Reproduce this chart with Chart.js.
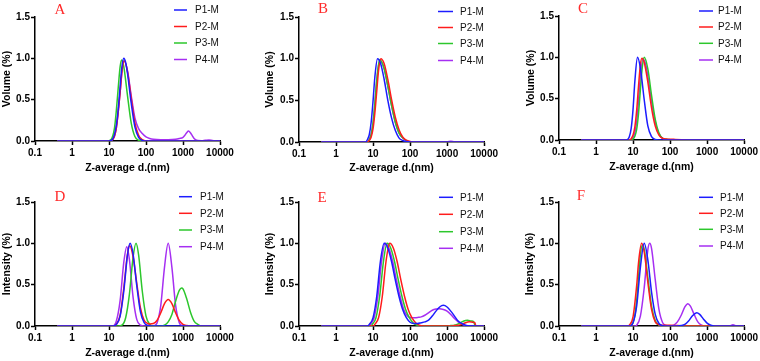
<!DOCTYPE html>
<html><head><meta charset="utf-8">
<script src="https://cdn.jsdelivr.net/npm/chart.js@4.4.1/dist/chart.umd.min.js"></script>
<style>
html,body{margin:0;padding:0;background:#fff;width:760px;height:361px;overflow:hidden;}
body{position:relative}
canvas{position:absolute}
</style></head><body>
<script>
// ---- shared labels / ticks ----
const xTicks = [0.1, 1, 10, 100, 1000, 10000];
const yTicks = [0, 0.5, 1.0, 1.5];
const seriesNames = ['P1-M', 'P2-M', 'P3-M', 'P4-M'];
const panelLetters = ['A', 'B', 'C', 'D', 'E', 'F'];
const yTitles = ['Volume (%)', 'Volume (%)', 'Volume (%)', 'Intensity (%)', 'Intensity (%)', 'Intensity (%)'];
const xTitle = 'Z-average d.(nm)';

// ---- Panel A (volume) ----
const A1x = [0.4, 10, 12.6, 15.8, 17.8, 20, 22.4, 25.1, 28.2, 31.6, 39.8, 50.1, 63.1, 79.4, 100, 10000];
const A1y = [0, 0, 0.024, 0.19, 0.39, 0.66, 0.90, 1.0, 0.95, 0.82, 0.46, 0.17, 0.044, 0.008, 0, 0];
const A2x = [0.4, 10, 12.6, 15.8, 20, 22.4, 25.7, 31.6, 39.8, 50.1, 63.1, 79.4, 100, 10000];
const A2y = [0, 0, 0.018, 0.16, 0.59, 0.84, 0.97, 0.84, 0.52, 0.22, 0.07, 0.016, 0, 0];
const A3x = [0.4, 8.91, 11.2, 14.1, 15.8, 17.8, 20, 21.9, 25.1, 31.6, 39.8, 50.1, 63.1, 79.4, 10000];
const A3y = [0, 0, 0.015, 0.16, 0.37, 0.65, 0.90, 0.98, 0.90, 0.55, 0.22, 0.055, 0.009, 0, 0];
const A4x = [0.4, 10, 12.6, 15.8, 20, 22.4, 25.7, 31.6, 39.8, 50.1, 63.1, 79.4, 100, 126, 158, 251, 398, 631, 794, 1000, 1122, 1259, 1413, 1585, 1778, 1995, 2512, 3162, 3981, 5012, 6310, 7943];
const A4y = [0, 0, 0.018, 0.16, 0.59, 0.84, 0.97, 0.85, 0.55, 0.28, 0.15, 0.09, 0.05, 0.03, 0.02, 0.015, 0.015, 0.02, 0.03, 0.045, 0.07, 0.10, 0.12, 0.10, 0.065, 0.03, 0.005, 0.003, 0.008, 0.012, 0.005, 0];

// ---- Panel B (volume) ----
const B1x = [0.4, 6.31, 7.08, 7.94, 8.91, 10, 11.2, 13.2, 15.8, 20, 25.1, 31.6, 39.8, 50.1, 63.1, 79.4, 100, 10000];
const B1y = [0, 0, 0.03, 0.09, 0.24, 0.49, 0.78, 1.0, 0.95, 0.75, 0.50, 0.29, 0.14, 0.05, 0.018, 0.005, 0, 0];
const B2x = [0.4, 7.08, 7.94, 8.91, 10, 11.2, 12.6, 14.1, 16.2, 20, 25.1, 31.6, 39.8, 50.1, 63.1, 79.4, 100, 126, 10000];
const B2y = [0, 0, 0.02, 0.06, 0.16, 0.35, 0.61, 0.86, 1.0, 0.94, 0.75, 0.51, 0.30, 0.15, 0.06, 0.022, 0.007, 0, 0];
const B3x = [0.4, 7.08, 7.94, 8.91, 10, 11.2, 12.6, 15.1, 20, 25.1, 31.6, 39.8, 50.1, 63.1, 79.4, 100, 10000];
const B3y = [0, 0, 0.03, 0.09, 0.23, 0.46, 0.74, 0.99, 0.88, 0.67, 0.44, 0.24, 0.11, 0.05, 0.016, 0, 0];
const B4x = [0.4, 7.08, 7.94, 8.91, 10, 11.2, 12.6, 15.1, 20, 25.1, 31.6, 39.8, 50.1, 63.1, 79.4, 100, 1000, 1259, 1585, 10000];
const B4y = [0, 0, 0.03, 0.09, 0.22, 0.45, 0.73, 0.98, 0.88, 0.67, 0.44, 0.24, 0.11, 0.05, 0.016, 0, 0, 0.01, 0, 0];

// ---- Panel C (volume) ----
const C1x = [0.4, 6.31, 7.08, 7.94, 8.91, 10, 11.2, 13.2, 15.8, 20, 25.1, 31.6, 39.8, 50.1, 10000];
const C1y = [0, 0, 0.006, 0.04, 0.14, 0.37, 0.71, 1.0, 0.87, 0.49, 0.17, 0.04, 0.006, 0, 0];
const C2x = [0.4, 7.94, 8.91, 10, 11.2, 12.6, 14.1, 15.8, 17.4, 20, 25.1, 31.6, 39.8, 50.1, 63.1, 79.4, 126, 200, 316, 10000];
const C2y = [0, 0, 0.015, 0.06, 0.16, 0.37, 0.66, 0.91, 0.99, 0.94, 0.70, 0.39, 0.17, 0.06, 0.02, 0.012, 0.008, 0.004, 0, 0];
const C3x = [0.4, 8.91, 10, 11.2, 12.6, 14.1, 15.8, 17.8, 20, 25.1, 31.6, 39.8, 50.1, 63.1, 79.4, 100, 158, 10000];
const C3y = [0, 0, 0.011, 0.044, 0.135, 0.325, 0.61, 0.88, 1.0, 0.86, 0.54, 0.25, 0.085, 0.021, 0.008, 0.004, 0, 0];
const C4x = [0.4, 8.91, 10, 11.2, 12.6, 14.1, 15.8, 18.6, 22.4, 28.2, 35.5, 44.7, 56.2, 70.8, 100, 10000];
const C4y = [0, 0, 0.03, 0.09, 0.23, 0.48, 0.77, 0.98, 0.90, 0.62, 0.33, 0.13, 0.04, 0.01, 0, 0];

// ---- Panel D (intensity) ----
const D1x = [0.4, 12.6, 15.8, 20, 25.1, 31.6, 37.2, 44.7, 56.2, 70.8, 89.1, 112, 141, 10000];
const D1y = [0, 0, 0.02, 0.12, 0.42, 0.86, 1.0, 0.87, 0.49, 0.17, 0.04, 0.006, 0, 0];
const D2x = [0.4, 12.6, 15.8, 20, 25.1, 31.6, 36.3, 44.7, 56.2, 70.8, 89.1, 112, 126, 158, 200, 251, 316, 398, 501, 631, 794, 1000, 1259, 1585, 10000];
const D2y = [0, 0, 0.02, 0.13, 0.46, 0.87, 0.97, 0.84, 0.52, 0.22, 0.07, 0.03, 0.025, 0.03, 0.07, 0.16, 0.27, 0.32, 0.27, 0.16, 0.068, 0.02, 0.005, 0, 0];
const D3x = [0.4, 17.8, 22.4, 28.2, 35.5, 44.7, 53.7, 63.1, 79.4, 100, 126, 158, 251, 316, 398, 501, 631, 794, 912, 1000, 1259, 1585, 1995, 2512, 3162, 10000];
const D3y = [0, 0, 0.01, 0.10, 0.38, 0.83, 1.0, 0.86, 0.42, 0.12, 0.02, 0, 0, 0.01, 0.05, 0.14, 0.30, 0.43, 0.46, 0.45, 0.33, 0.17, 0.06, 0.02, 0, 0];
const D4x = [0.4, 12.6, 15.8, 20, 25.1, 30.2, 35.5, 44.7, 56.2, 70.8, 89.1, 158, 178, 200, 251, 316, 398, 501, 631, 794, 891, 1000, 10000];
const D4y = [0, 0, 0.06, 0.31, 0.77, 0.96, 0.81, 0.35, 0.08, 0.01, 0, 0, 0.01, 0.04, 0.25, 0.71, 1.0, 0.71, 0.25, 0.04, 0.01, 0, 0];

// ---- Panel E (intensity) ----
const E1x = [0.4, 7.08, 7.94, 10, 12.6, 15.8, 20, 25.1, 31.6, 39.8, 50.1, 63.1, 79.4, 100, 126, 158, 200, 251, 316, 398, 501, 631, 794, 1000, 1259, 1585, 1995, 2512, 3162, 3981, 10000];
const E1y = [0, 0, 0.02, 0.10, 0.36, 0.78, 1.0, 0.94, 0.78, 0.56, 0.36, 0.20, 0.10, 0.045, 0.03, 0.03, 0.04, 0.05, 0.07, 0.12, 0.18, 0.23, 0.25, 0.23, 0.18, 0.12, 0.06, 0.03, 0.01, 0, 0];
const E2x = [0.4, 10, 11.2, 14.1, 17.8, 22.4, 28.2, 35.5, 44.7, 56.2, 70.8, 89.1, 112, 141, 178, 224, 1259, 1585, 1995, 2512, 3162, 3981, 5012, 5623, 6026, 10000];
const E2y = [0, 0, 0.02, 0.10, 0.36, 0.78, 1.0, 0.94, 0.78, 0.56, 0.36, 0.20, 0.10, 0.04, 0.01, 0, 0, 0.005, 0.01, 0.02, 0.04, 0.05, 0.045, 0.04, 0, 0];
const E3x = [0.4, 8.51, 9.55, 12.0, 15.1, 19.1, 24.0, 30.2, 38.0, 47.9, 60.3, 75.9, 95.5, 120, 151, 191, 1000, 1259, 1585, 1995, 2512, 3162, 3548, 4467, 5248, 5754, 10000];
const E3y = [0, 0, 0.02, 0.10, 0.36, 0.78, 1.0, 0.94, 0.78, 0.56, 0.36, 0.20, 0.10, 0.04, 0.01, 0, 0, 0.005, 0.01, 0.025, 0.05, 0.067, 0.07, 0.06, 0.05, 0, 0];
const E4x = [0.4, 7.59, 8.51, 10.7, 13.5, 17.0, 21.4, 26.9, 33.9, 42.7, 53.7, 67.6, 85.1, 107, 135, 170, 200, 251, 316, 398, 501, 631, 794, 1000, 1259, 1585, 1995, 2512, 3162, 3548, 10000];
const E4y = [0, 0, 0.02, 0.10, 0.36, 0.78, 1.0, 0.94, 0.78, 0.56, 0.36, 0.20, 0.12, 0.10, 0.10, 0.105, 0.11, 0.13, 0.16, 0.19, 0.205, 0.21, 0.20, 0.18, 0.14, 0.09, 0.05, 0.02, 0.005, 0, 0];

// ---- Panel F (intensity) ----
const F1x = [0.4, 7.94, 10, 12.6, 15.8, 20, 25.1, 31.6, 39.8, 50.1, 63.1, 79.4, 158, 200, 251, 316, 398, 525, 631, 794, 1000, 1259, 1585, 10000];
const F1y = [0, 0, 0.04, 0.25, 0.71, 1.0, 0.80, 0.41, 0.14, 0.03, 0.004, 0, 0, 0.005, 0.02, 0.06, 0.12, 0.16, 0.14, 0.085, 0.035, 0.01, 0, 0];
const F2x = [0.4, 7.08, 7.94, 10, 12.6, 14.1, 17.0, 20, 25.1, 31.6, 39.8, 50.1, 63.1, 100, 158, 251, 10000];
const F2y = [0, 0, 0.01, 0.11, 0.50, 0.77, 1.0, 0.90, 0.53, 0.20, 0.05, 0.015, 0.01, 0.008, 0.005, 0, 0];
const F3x = [0.4, 7.94, 8.91, 10, 11.2, 12.6, 14.1, 15.8, 17.8, 20, 25.1, 31.6, 39.8, 50.1, 63.1, 10000];
const F3y = [0, 0, 0.011, 0.04, 0.13, 0.32, 0.59, 0.86, 0.98, 0.93, 0.59, 0.24, 0.065, 0.011, 0, 0];
const F4x = [0.4, 11.2, 12.6, 15.8, 20, 25.1, 28.2, 31.6, 39.8, 50.1, 63.1, 79.4, 91.2, 100, 126, 158, 200, 251, 302, 355, 447, 562, 708, 891, 3981, 5012, 6310, 10000];
const F4y = [0, 0, 0.01, 0.12, 0.46, 0.92, 1.0, 0.94, 0.56, 0.20, 0.04, 0.006, 0, 0.002, 0.01, 0.05, 0.13, 0.23, 0.27, 0.24, 0.14, 0.05, 0.01, 0, 0, 0.015, 0, 0];

const seriesColors = ['#1c1cff', '#ff1c1c', '#2cc72c', '#a62ff2'];

// ---- layout (pixel geometry, not data) ----
const panels = [
  {L0: 0,   T0: 0,   W: 250, H: 180, left: 35,  right: 220, top: 17,  bottom: 141, yTitleX: 7,   xTitleY: 168.3, letter: [60, 9],    leg: [174, 187, 195, [10, 26.5, 43, 59.5]],      series: [[A1x, A1y], [A2x, A2y], [A3x, A3y], [A4x, A4y]]},
  {L0: 250, T0: 0,   W: 250, H: 180, left: 299, right: 485, top: 17,  bottom: 142, yTitleX: 270, xTitleY: 168.3, letter: [323, 8],   leg: [438, 453, 460, [11.5, 27.5, 43.5, 60.5]],  series: [[B1x, B1y], [B2x, B2y], [B3x, B3y], [B4x, B4y]]},
  {L0: 500, T0: 0,   W: 260, H: 180, left: 559, right: 746, top: 16,  bottom: 140, yTitleX: 531.5, xTitleY: 166.7, letter: [583, 8], leg: [699, 713, 718, [11, 27, 43.3, 60]],        series: [[C1x, C1y], [C2x, C2y], [C3x, C3y], [C4x, C4y]]},
  {L0: 0,   T0: 180, W: 250, H: 181, left: 35,  right: 220, top: 202, bottom: 326, yTitleX: 7,   xTitleY: 353.3, letter: [60, 196],  leg: [179, 192, 200, [196.7, 213.3, 230, 246.7]], series: [[D1x, D1y], [D2x, D2y], [D3x, D3y], [D4x, D4y]]},
  {L0: 250, T0: 180, W: 250, H: 181, left: 299, right: 485, top: 202, bottom: 326, yTitleX: 270, xTitleY: 353.3, letter: [322, 197], leg: [439, 453, 460, [197.3, 214.3, 231.7, 248.3]], series: [[E1x, E1y], [E2x, E2y], [E3x, E3y], [E4x, E4y]]},
  {L0: 500, T0: 180, W: 260, H: 181, left: 559, right: 746, top: 202, bottom: 326, yTitleX: 530, xTitleY: 353.3, letter: [581, 195], leg: [699, 713, 720, [197.3, 213.3, 229.3, 246]],   series: [[F1x, F1y], [F2x, F2y], [F3x, F3y], [F4x, F4y]]}
];

const SANS = '"Liberation Sans", Arial, sans-serif';
const SERIF = '"Liberation Serif", "Times New Roman", serif';
const TITLE_SIZE = 10.5;
const LH = TITLE_SIZE * 1.2;

function toPoints(xs, ys) { return xs.map((x, i) => ({x: x, y: ys[i]})); }

panels.forEach((p, idx) => {
  const cv = document.createElement('canvas');
  cv.width = p.W; cv.height = p.H;
  cv.style.left = p.L0 + 'px'; cv.style.top = p.T0 + 'px';
  cv.style.width = p.W + 'px'; cv.style.height = p.H + 'px';
  document.body.appendChild(cv);

  const decor = {
    id: 'decor' + idx,
    afterDraw(chart) {
      const ctx = chart.ctx;
      ctx.save();
      // panel letter
      ctx.fillStyle = '#ff2a2a';
      ctx.font = '15px ' + SERIF;
      ctx.textAlign = 'center';
      ctx.textBaseline = 'middle';
      ctx.fillText(panelLetters[idx], p.letter[0] - p.L0, p.letter[1] - p.T0 + 1);
      // legend
      ctx.font = '10px ' + SANS;
      ctx.textAlign = 'left';
      chart.data.datasets.forEach((ds, i) => {
        const y = p.leg[3][i] - p.T0;
        ctx.strokeStyle = ds.borderColor;
        ctx.lineWidth = 1.5;
        ctx.beginPath();
        ctx.moveTo(p.leg[0] - p.L0, y);
        ctx.lineTo(p.leg[1] - p.L0, y);
        ctx.stroke();
        ctx.fillStyle = '#111';
        ctx.fillText(ds.label, p.leg[2] - p.L0, y + 0.5);
      });
      ctx.restore();
    }
  };

  new Chart(cv, {
    type: 'line',
    data: {
      datasets: p.series.map((s, i) => ({
        label: seriesNames[i],
        data: toPoints(s[0], s[1]),
        borderColor: seriesColors[i],
        backgroundColor: seriesColors[i],
        borderWidth: 1.5,
        pointRadius: 0,
        fill: false,
        cubicInterpolationMode: 'monotone'
      }))
    },
    options: {
      responsive: false,
      animation: false,
      devicePixelRatio: 1,
      parsing: true,
      layout: {padding: {left: 0, top: p.top - p.T0, right: p.L0 + p.W - p.right, bottom: 0}},
      plugins: {legend: {display: false}, tooltip: {enabled: false}},
      scales: {
        x: {
          type: 'logarithmic',
          min: xTicks[0], max: xTicks[xTicks.length - 1],
          afterBuildTicks: (s) => { s.ticks = xTicks.map(v => ({value: v})); },
          afterFit: (s) => { s.height = p.T0 + p.H - p.bottom; },
          border: {display: true, color: '#000', width: 1.5},
          grid: {display: true, drawOnChartArea: false, drawTicks: true, tickLength: 4, tickWidth: 1.5, tickColor: '#000', color: '#000'},
          ticks: {autoSkip: false, maxRotation: 0, padding: 2, color: '#000', font: {family: SANS, size: 10, weight: 'bold'},
                  callback: (v) => String(v)},
          title: {display: true, text: xTitle, color: '#000', font: {family: SANS, size: TITLE_SIZE, weight: 'bold'},
                  padding: {top: 0, bottom: (p.T0 + p.H - p.xTitleY) - LH / 2}}
        },
        y: {
          type: 'linear',
          min: 0, max: 1.5,
          afterBuildTicks: (s) => { s.ticks = yTicks.map(v => ({value: v})); },
          afterFit: (s) => { s.width = p.left - p.L0; },
          border: {display: true, color: '#000', width: 1.5},
          grid: {display: true, drawOnChartArea: false, drawTicks: true, tickLength: 4, tickWidth: 1.5, tickColor: '#000', color: '#000'},
          ticks: {padding: 1, color: '#000', font: {family: SANS, size: 10, weight: 'bold'},
                  callback: (v) => Number(v).toFixed(1)},
          title: {display: true, text: yTitles[idx], color: '#000', font: {family: SANS, size: TITLE_SIZE, weight: 'bold'},
                  padding: {top: (p.yTitleX - p.L0) - LH / 2, bottom: 0}}
        }
      }
    },
    plugins: [decor]
  });
});
</script>
</body></html>
